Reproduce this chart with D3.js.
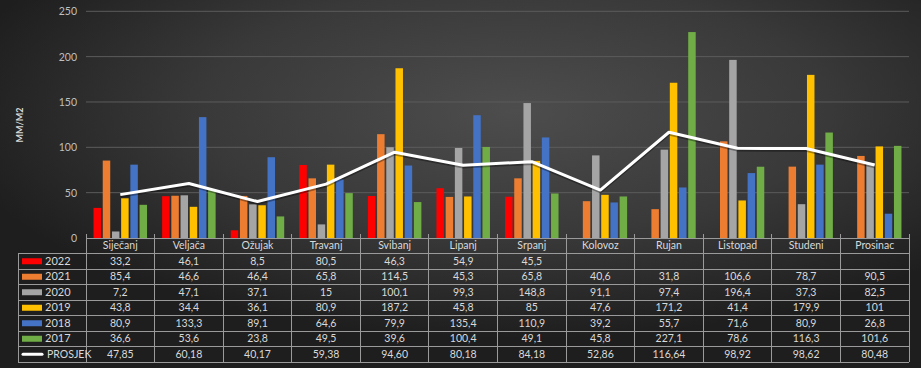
<!DOCTYPE html>
<html><head><meta charset="utf-8">
<script src="https://cdn.jsdelivr.net/npm/d3@7"></script>
<style>html,body{margin:0;padding:0;background:#222;}svg{display:block;}</style>
</head><body>
<svg id="c" width="921" height="368"></svg>
<script>
const months = ["Siječanj","Veljača","Ožujak","Travanj","Svibanj","Lipanj","Srpanj","Kolovoz","Rujan","Listopad","Studeni","Prosinac"];
const seriesNames = ["2022","2021","2020","2019","2018","2017"];
const s2022 = [33.2,46.1,8.5,80.5,46.3,54.9,45.5,null,null,null,null,null];
const s2021 = [85.4,46.6,46.4,65.8,114.5,45.3,65.8,40.6,31.8,106.6,78.7,90.5];
const s2020 = [7.2,47.1,37.1,15,100.1,99.3,148.8,91.1,97.4,196.4,37.3,82.5];
const s2019 = [43.8,34.4,36.1,80.9,187.2,45.8,85,47.6,171.2,41.4,179.9,101];
const s2018 = [80.9,133.3,89.1,64.6,79.9,135.4,110.9,39.2,55.7,71.6,80.9,26.8];
const s2017 = [36.6,53.6,23.8,49.5,39.6,100.4,49.1,45.8,227.1,78.6,116.3,101.6];
const prosjek = [47.85,60.18,40.17,59.38,94.60,80.18,84.18,52.86,116.64,98.92,98.62,80.48];
const prosjekLabels = ["47,85","60,18","40,17","59,38","94,60","80,18","84,18","52,86","116,64","98,92","98,62","80,48"];
const yTicks = [0,50,100,150,200,250];
const colors = ["#ff0000","#ed7d31","#a5a5a5","#ffc000","#4472c4","#70ad47"];

const series = [s2022,s2021,s2020,s2019,s2018,s2017];
const fmt = v => v == null ? "" : String(v).replace(".", ",");

(function(){
const svg = d3.select("#c");
const W = 921, H = 368;
const defs = svg.append("defs");
const rg = defs.append("radialGradient").attr("id","bg")
  .attr("cx","56%").attr("cy","30%").attr("r","62%").attr("fx","56%").attr("fy","30%");
rg.append("stop").attr("offset","0%").attr("stop-color","#4d4d4d");
rg.append("stop").attr("offset","55%").attr("stop-color","#393939");
rg.append("stop").attr("offset","100%").attr("stop-color","#1e1e1e");
svg.append("rect").attr("width",W).attr("height",H).attr("fill","url(#bg)");

const pL = 86, pR = 909, pT = 11.3, pB = 238;
const x0 = d3.scaleBand().domain(months).range([pL,pR]).padding(0);
const x1 = d3.scaleBand().domain(seriesNames).range([0,x0.bandwidth()]).paddingInner(0.185).paddingOuter(0.82);
const y = d3.scaleLinear().domain([0,250]).range([pB,pT]);

const font = "Lato, 'Open Sans', sans-serif";

svg.append("g").selectAll("line").data(yTicks.filter(t=>t>0)).join("line")
  .attr("x1",pL).attr("x2",pR).attr("y1",d=>y(d)).attr("y2",d=>y(d))
  .attr("stroke","#5c5c5c").attr("stroke-width",1);

const yAxis = d3.axisLeft(y).tickValues(yTicks).tickSize(0).tickPadding(9);
const ya = svg.append("g").attr("transform",`translate(${pL},0)`).call(yAxis);
ya.select(".domain").remove();
ya.selectAll("text").attr("fill","#bfbfbf").attr("font-family",font).attr("font-size",10.5);

svg.append("text").attr("transform","translate(23,125) rotate(-90)")
  .attr("text-anchor","middle").attr("fill","#d9d9d9").attr("font-family",font)
  .attr("font-weight","bold").attr("font-size",9).text("MM/M2");

const g = svg.append("g");
series.forEach((s,si)=>{
  g.append("g").selectAll("rect").data(s.map((v,i)=>({v,m:months[i]})).filter(d=>d.v!=null)).join("rect")
    .attr("x",d=>x0(d.m)+x1(seriesNames[si]))
    .attr("width",x1.bandwidth())
    .attr("y",d=>y(d.v))
    .attr("height",d=>y(0)-y(d.v))
    .attr("fill",colors[si]);
});

const line = d3.line().x((d,i)=>x0(months[i])+x0.bandwidth()/2).y(d=>y(d));
svg.append("path").datum(prosjek).attr("d",line).attr("fill","none")
  .attr("stroke","rgba(0,0,0,0.35)").attr("stroke-width",3.5).attr("transform","translate(0,1.5)");
svg.append("path").datum(prosjek).attr("d",line).attr("fill","none")
  .attr("stroke","#ffffff").attr("stroke-width",3).attr("stroke-linejoin","round");

const tLeft = 18, rowH = 15.5, headerTop = 238, headerBot = 253.5;
const rowsTop = d3.range(8).map(i=>headerBot + i*rowH);
const lineCol = "#9a9a9a";
const tg = svg.append("g").attr("stroke",lineCol).attr("stroke-width",1).attr("shape-rendering","crispEdges");
tg.append("line").attr("x1",pL).attr("x2",pR).attr("y1",headerTop).attr("y2",headerTop);
rowsTop.forEach(yy=>{
  tg.append("line").attr("x1",tLeft).attr("x2",pR).attr("y1",yy).attr("y2",yy);
});
tg.append("line").attr("x1",tLeft).attr("x2",tLeft).attr("y1",headerBot).attr("y2",rowsTop[7]);
months.forEach(m=>{
  tg.append("line").attr("x1",x0(m)).attr("x2",x0(m)).attr("y1",headerTop-4).attr("y2",rowsTop[7]);
});
tg.append("line").attr("x1",pR).attr("x2",pR).attr("y1",headerTop-4).attr("y2",rowsTop[7]);

const txt = svg.append("g").attr("font-family",font).attr("font-size",10.5).attr("fill","#d9d9d9").attr("text-anchor","middle");
months.forEach(m=>{
  txt.append("text").attr("x",x0(m)+x0.bandwidth()/2).attr("y",(headerTop+headerBot)/2+3.7).text(m);
});
series.forEach((s,si)=>{
  const yc = (rowsTop[si]+rowsTop[si+1])/2 + 3.7;
  s.forEach((v,i)=>{
    txt.append("text").attr("x",x0(months[i])+x0.bandwidth()/2).attr("y",yc).text(fmt(v));
  });
  svg.append("rect").attr("x",22).attr("y",yc-3.7-3).attr("width",20).attr("height",6).attr("fill",colors[si]);
  txt.append("text").attr("x",45).attr("y",yc).attr("text-anchor","start").attr("font-size",11).text(seriesNames[si]);
});
{
  const yc = (rowsTop[6]+rowsTop[7])/2 + 3.7;
  prosjekLabels.forEach((v,i)=>{
    txt.append("text").attr("x",x0(months[i])+x0.bandwidth()/2).attr("y",yc).text(v);
  });
  svg.append("line").attr("x1",23).attr("x2",42).attr("y1",yc-3.7).attr("y2",yc-3.7)
    .attr("stroke","#fff").attr("stroke-width",3).attr("stroke-linecap","round");
  txt.append("text").attr("x",47).attr("y",yc).attr("text-anchor","start").attr("font-size",10.5).text("PROSJEK");
}
})();
</script>
</body></html>
